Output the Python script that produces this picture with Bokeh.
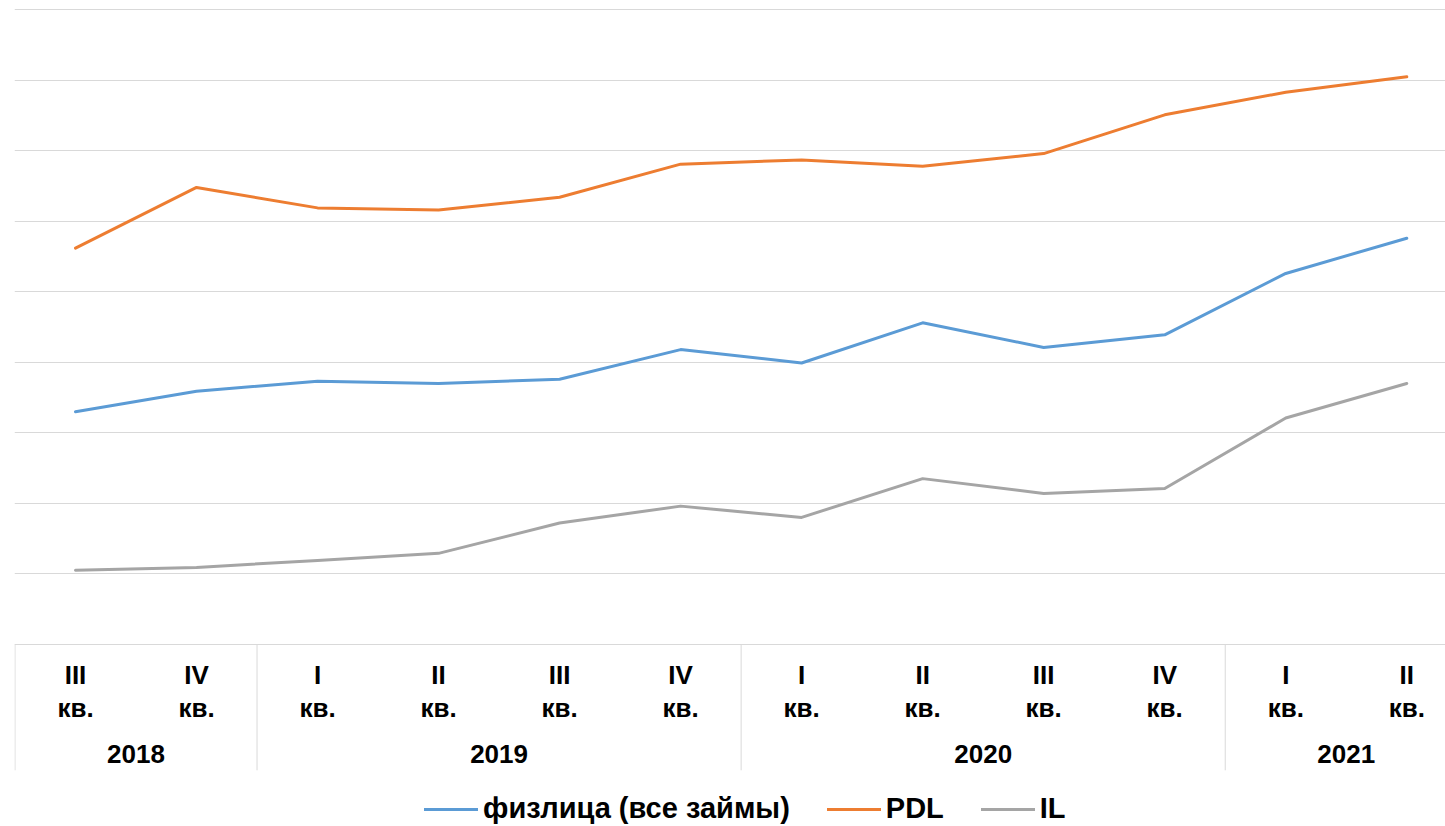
from bokeh.plotting import figure
from bokeh.models import Range1d, FixedTicker, ColumnDataSource, Legend, LegendItem
from bokeh.core.properties import value
from bokeh.embed import file_html
from bokeh.resources import INLINE

# ---------------- data ----------------
years = ["2018", "2019", "2020", "2021"]
quarters_per_year = [["III", "IV"], ["I", "II", "III", "IV"], ["I", "II", "III", "IV"], ["I", "II"]]
quarter_suffix = "кв."

series_names = ["физлица (все займы)", "PDL", "IL"]
fizlica = [3.30, 3.59, 3.73, 3.70, 3.76, 4.18, 3.99, 4.56, 4.21, 4.39, 5.26, 5.76]
pdl = [5.62, 6.48, 6.19, 6.16, 6.34, 6.81, 6.87, 6.78, 6.96, 7.51, 7.83, 8.05]
il = [1.05, 1.09, 1.19, 1.29, 1.72, 1.96, 1.80, 2.35, 2.14, 2.21, 3.21, 3.70]
grid_values = [0, 1, 2, 3, 4, 5, 6, 7, 8, 9]

# ---------------- derived ----------------
q_labels = [q for qs in quarters_per_year for q in qs]
xs = list(range(len(q_labels)))

bounds = [-0.5]
year_centers = []
start = 0
for qs in quarters_per_year:
    n = len(qs)
    year_centers.append(start + (n - 1) / 2)
    start += n
    bounds.append(start - 0.5)

# ---------------- style ----------------
FONT = "Liberation Sans"
colors = ["#5B9BD5", "#ED7D31", "#A5A5A5"]
GRID = "#D9D9D9"
PX_PER_UNIT = 70.5
SEP_BOTTOM = -126 / PX_PER_UNIT

p = figure(width=1445, height=826, output_backend="svg", toolbar_location=None,
           x_range=Range1d(-0.504, 11.32), y_range=Range1d(-2.584, 9.018),
           min_border_left=14, min_border_right=0, min_border_top=8, min_border_bottom=0)
p.xaxis.visible = False
p.yaxis.visible = False
p.xgrid.visible = False
p.ygrid.ticker = FixedTicker(ticks=grid_values)
p.ygrid.grid_line_color = GRID
p.ygrid.grid_line_width = 1
p.outline_line_color = None
p.background_fill_color = "white"
p.border_fill_color = "white"

# separators of the year groups
p.segment(x0=bounds, y0=[0] * len(bounds), x1=bounds, y1=[SEP_BOTTOM] * len(bounds),
          line_color=GRID, line_width=1)

renderers = []
for name, ys, c in zip(series_names, [fizlica, pdl, il], colors):
    r = p.line(xs, ys, line_color=c, line_width=3, line_cap="round", line_join="round")
    renderers.append((name, r))

label_style = dict(text_font=value(FONT), text_font_style="bold", text_font_size="26px",
                   text_align="center", text_baseline="middle", text_color="#000000")

# quarter labels (two lines: numeral + suffix)
qsrc = ColumnDataSource(dict(x=xs, y=[0] * len(xs), t=q_labels,
                             s=[quarter_suffix] * len(xs)))
p.text(x="x", y="y", text="t", source=qsrc, y_offset=31, **label_style)
p.text(x="x", y="y", text="s", source=qsrc, y_offset=64, **label_style)

# year labels
ysrc = ColumnDataSource(dict(x=year_centers, y=[0] * len(years), t=years))
p.text(x="x", y="y", text="t", source=ysrc, y_offset=110, **label_style)

legend = Legend(items=[LegendItem(label=n, renderers=[r]) for n, r in renderers],
                orientation="horizontal", location=(410, 1),
                border_line_color=None, background_fill_alpha=0,
                padding=0, margin=0, spacing=37, glyph_width=54, glyph_height=20,
                label_standoff=5, label_text_font=FONT, label_text_font_style="bold",
                label_text_font_size="29px", label_text_color="#000000")
p.add_layout(legend, "center")

open("out.html", "w").write(file_html(p, INLINE))
